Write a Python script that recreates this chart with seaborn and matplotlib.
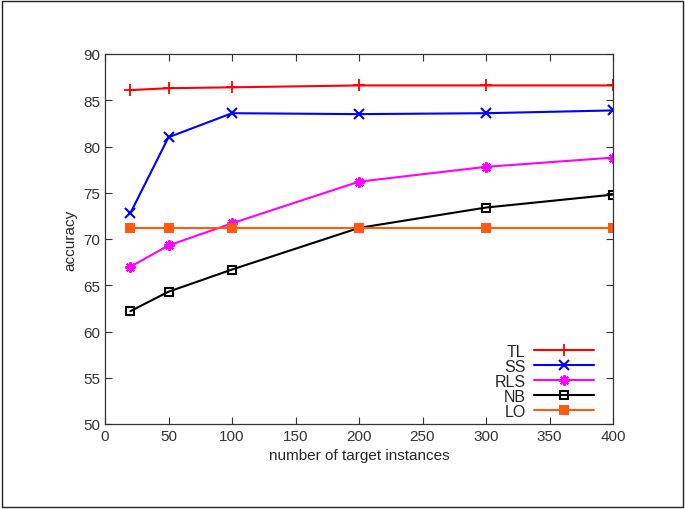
import matplotlib
matplotlib.use('Agg')
import matplotlib.pyplot as plt
import numpy as np
import pandas as pd
import seaborn as sns
from matplotlib.patches import Rectangle

n_target = [20, 50, 100, 200, 300, 400]
acc_tl = [86.1, 86.3, 86.4, 86.6, 86.6, 86.6]
acc_ss = [72.8, 81.0, 83.6, 83.5, 83.6, 83.9]
acc_rls = [67.0, 69.3, 71.7, 76.2, 77.8, 78.8]
acc_nb = [62.2, 64.3, 66.7, 71.2, 73.4, 74.8]
acc_lo = [71.2, 71.2, 71.2, 71.2, 71.2, 71.2]

series = [("TL", acc_tl, '#FF0000', '+', dict(markersize=9, markeredgewidth=1.3)),
          ("SS", acc_ss, '#0000FF', 'x', dict(markersize=6.5, markeredgewidth=1.5)),
          ("RLS", acc_rls, '#FF00FF', (8, 2, 0), dict(markersize=7.5, markeredgewidth=1.5)),
          ("NB", acc_nb, '#000000', 's', dict(markersize=6, markeredgewidth=1.5, markerfacecolor='none')),
          ("LO", acc_lo, '#FF5A10', 's', dict(markersize=6.5, markeredgewidth=0))]

sns.set_style('ticks')
plt.rcParams['font.family'] = ['Liberation Sans', 'DejaVu Sans']

fig = plt.figure(figsize=(6.85, 5.1), dpi=100)
ax = fig.add_axes([105 / 685, 1 - 425 / 510, (613 - 105) / 685, (425 - 55) / 510])

for name, vals, col, mk, kw in series:
    df = pd.DataFrame({'n': n_target, 'acc': vals})
    sns.lineplot(ax=ax, data=df, x='n', y='acc', color=col, marker=mk, label=name,
                 linewidth=1.5, markeredgecolor=col, **kw)

ax.set_xlim(0, 400)
ax.set_ylim(50, 90)
ax.set_xticks(np.arange(0, 401, 50))
ax.set_yticks(np.arange(50, 91, 5))
ax.tick_params(direction='in', top=True, right=True, length=5, labelsize=11, colors='#333333', width=0.8)
for s in ax.spines.values():
    s.set_color('#333333')
    s.set_linewidth(0.9)
ax.set_xlabel('number of target instances', fontsize=11)
ax.set_ylabel('accuracy', fontsize=11)

ax.legend(loc='lower right', bbox_to_anchor=(0.985, -0.016), frameon=False, markerfirst=False,
          handlelength=3.8, fontsize=11.5, labelspacing=0.0, borderaxespad=0.3, handletextpad=0.5)

fig.patches.append(Rectangle((0.003, 0.004), 0.994, 0.992, transform=fig.transFigure,
                             fill=False, edgecolor='#222222', linewidth=1.0))

plt.savefig('out.png', dpi=100)
